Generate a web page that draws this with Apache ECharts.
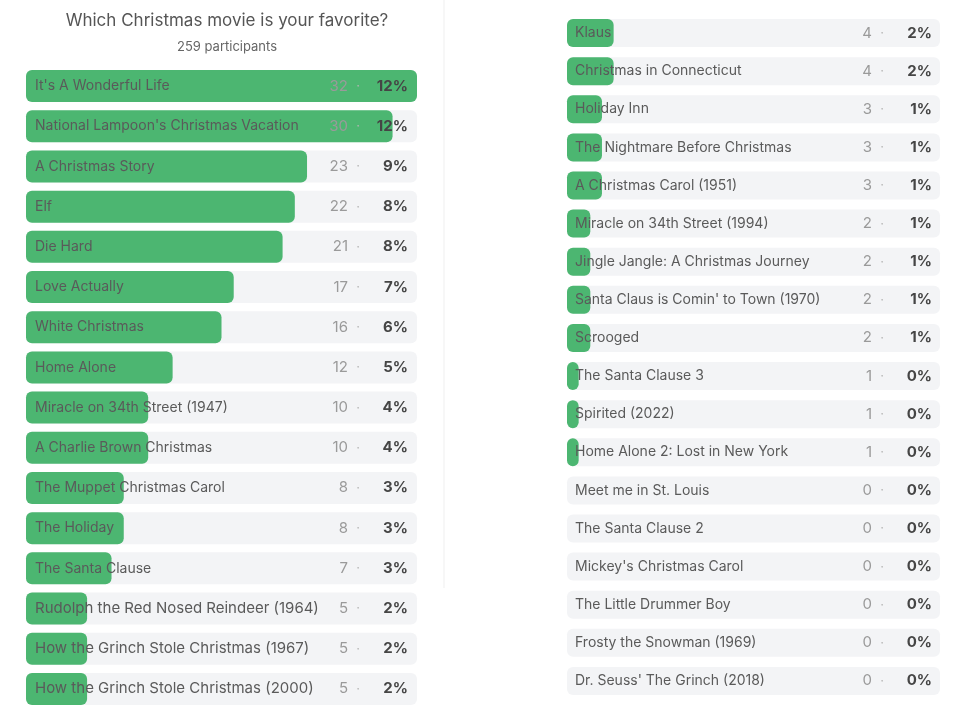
<!DOCTYPE html>
<html>
<head>
<meta charset="utf-8">
<script src="https://cdn.jsdelivr.net/npm/echarts@6/dist/echarts.min.js"></script>
<style>html,body{margin:0;padding:0;background:#fff}#c{width:960px;height:720px}</style>
</head>
<body>
<div id="c"></div>
<script>
const titleText = "Which Christmas movie is your favorite?";
const subtitleText = "259 participants";

const leftNames = ["It's A Wonderful Life","National Lampoon's Christmas Vacation","A Christmas Story","Elf","Die Hard","Love Actually","White Christmas","Home Alone","Miracle on 34th Street (1947)","A Charlie Brown Christmas","The Muppet Christmas Carol","The Holiday","The Santa Clause","Rudolph the Red Nosed Reindeer (1964)","How the Grinch Stole Christmas (1967)","How the Grinch Stole Christmas (2000)"];
const leftVotes = [32,30,23,22,21,17,16,12,10,10,8,8,7,5,5,5];
const leftPct = [12,12,9,8,8,7,6,5,4,4,3,3,3,2,2,2];

const rightNames = ["Klaus","Christmas in Connecticut","Holiday Inn","The Nightmare Before Christmas","A Christmas Carol (1951)","Miracle on 34th Street (1994)","Jingle Jangle: A Christmas Journey","Santa Claus is Comin' to Town (1970)","Scrooged","The Santa Clause 3","Spirited (2022)","Home Alone 2: Lost in New York","Meet me in St. Louis","The Santa Clause 2","Mickey's Christmas Carol","The Little Drummer Boy","Frosty the Snowman (1969)","Dr. Seuss' The Grinch (2018)"];
const rightVotes = [4,4,3,3,3,2,2,2,2,1,1,1,0,0,0,0,0,0];
const rightPct = [2,2,1,1,1,1,1,1,1,0,0,0,0,0,0,0,0,0];

const FONT = 'Inter';
const GREEN = '#4cb671';
const TRACK = '#f3f4f6';
const maxVotes = Math.max(...leftVotes, ...rightVotes);

function statsLabels(votes, pct){
  return votes.map((v,i)=>v + '|' + pct[i]);
}
const richStats = {
  c:{color:'#9a9a9a',fontSize:15,fontFamily:FONT},
  d:{color:'#b5b5b5',fontSize:13,fontFamily:FONT,width:20,align:'center'},
  p:{color:'#454545',fontSize:15,fontWeight:'bold',fontFamily:FONT,width:40,align:'right'}
};
function statsFmt(val){
  const [v,p] = val.split('|');
  return '{c|' + v + '}{d|\u00b7}{p|' + p + '%}';
}
// last three rows of the left panel come from a slightly larger screenshot
const leftNameItems = leftNames.map((n,i)=> i >= 13 ? {value:n,textStyle:{fontSize:15}} : n);

const chart = echarts.init(document.getElementById('c'));
chart.setOption({
  backgroundColor:'#fff',
  animation:false,
  title:[
    {text:titleText,left:222,top:7,textAlign:'center',textStyle:{fontFamily:FONT,fontSize:17,fontWeight:'normal',color:'#555'}},
    {text:subtitleText,left:222,top:36,textAlign:'center',textStyle:{fontFamily:FONT,fontSize:13,fontWeight:'normal',color:'#666'}}
  ],
  graphic:[
    {type:'line',shape:{x1:444,y1:0,x2:444,y2:588},style:{stroke:'#efefef',lineWidth:1}}
  ],
  grid:[
    {left:26,width:391,top:66,height:643},
    {left:567,width:373,top:14,height:686}
  ],
  xAxis:[
    {gridIndex:0,type:'value',min:0,max:maxVotes,show:false},
    {gridIndex:1,type:'value',min:0,max:maxVotes,show:false}
  ],
  yAxis:[
    {gridIndex:0,type:'category',inverse:true,data:leftNameItems,position:'left',z:5,
     axisLine:{show:false},axisTick:{show:false},
     axisLabel:{inside:true,margin:9,color:'#5a5a5a',fontSize:14,fontFamily:FONT}},
    {gridIndex:0,type:'category',inverse:true,data:statsLabels(leftVotes,leftPct),position:'right',z:5,
     axisLine:{show:false},axisTick:{show:false},
     axisLabel:{inside:true,margin:9,formatter:statsFmt,rich:richStats}},
    {gridIndex:1,type:'category',inverse:true,data:rightNames,position:'left',z:5,
     axisLine:{show:false},axisTick:{show:false},
     axisLabel:{inside:true,margin:8,color:'#5a5a5a',fontSize:14,fontFamily:FONT}},
    {gridIndex:1,type:'category',inverse:true,data:statsLabels(rightVotes,rightPct),position:'right',z:5,
     axisLine:{show:false},axisTick:{show:false},
     axisLabel:{inside:true,margin:8,formatter:statsFmt,rich:richStats}}
  ],
  series:[
    {type:'bar',xAxisIndex:0,yAxisIndex:0,data:leftVotes,barWidth:32,
     itemStyle:{color:GREEN,borderRadius:6},
     showBackground:true,backgroundStyle:{color:TRACK,borderRadius:6}},
    {type:'bar',xAxisIndex:1,yAxisIndex:2,data:rightVotes,barWidth:28,
     itemStyle:{color:GREEN,borderRadius:6},
     showBackground:true,backgroundStyle:{color:TRACK,borderRadius:6}}
  ]
});
</script>
</body>
</html>
